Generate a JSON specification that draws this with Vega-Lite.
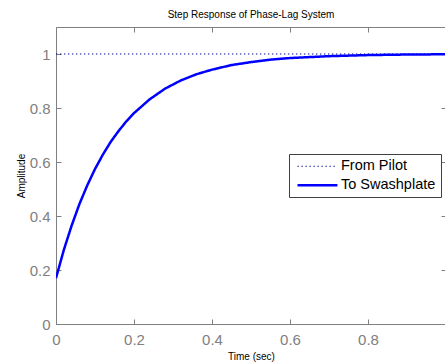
{
  "$schema": "https://vega.github.io/schema/vega-lite/v6.json",
  "width": 390,
  "height": 297,
  "autosize": {"type": "none"},
  "padding": {"left": 56, "top": 27, "right": 0, "bottom": 38},
  "background": "white",
  "title": {"text": "Step Response of Phase-Lag System", "fontSize": 10, "font": "Liberation Sans", "fontWeight": "normal", "color": "#000000", "offset": 7},
  "config": {
    "view": {"stroke": "#808080", "strokeWidth": 1},
    "axis": {
      "domainColor": "#808080",
      "tickColor": "#808080",
      "tickSize": -5,
      "labelColor": "#808080",
      "labelFont": "Liberation Sans",
      "labelFontSize": 15,
      "labelFlush": false,
      "labelOverlap": false,
      "titleFont": "Liberation Sans",
      "titleFontSize": 10,
      "titleFontWeight": "normal",
      "titleColor": "#000000",
      "grid": false
    },
    "legend": {
      "orient": "none",
      "legendX": 233,
      "legendY": 127,
      "strokeColor": "#404040",
      "fillColor": "#ffffff",
      "padding": 5,
      "symbolType": "M-0.79,0H7.63",
      "symbolSize": 90,
      "labelFont": "Liberation Sans",
      "labelFontSize": 14.5,
      "labelColor": "#000000",
      "labelOffset": 32.5,
      "labelLimit": 300,
      "rowPadding": 4
    }
  },
  "data": {
    "values": [
      {"series": "From Pilot", "t": 0, "y": 1},
      {"series": "From Pilot", "t": 1, "y": 1},
      {"series": "To Swashplate", "t": 0, "y": 0.17},
      {"series": "To Swashplate", "t": 0.02, "y": 0.274},
      {"series": "To Swashplate", "t": 0.04, "y": 0.364},
      {"series": "To Swashplate", "t": 0.06, "y": 0.444},
      {"series": "To Swashplate", "t": 0.08, "y": 0.513},
      {"series": "To Swashplate", "t": 0.1, "y": 0.574},
      {"series": "To Swashplate", "t": 0.12, "y": 0.627},
      {"series": "To Swashplate", "t": 0.14, "y": 0.674},
      {"series": "To Swashplate", "t": 0.16, "y": 0.714},
      {"series": "To Swashplate", "t": 0.18, "y": 0.75},
      {"series": "To Swashplate", "t": 0.2, "y": 0.781},
      {"series": "To Swashplate", "t": 0.24, "y": 0.832},
      {"series": "To Swashplate", "t": 0.28, "y": 0.872},
      {"series": "To Swashplate", "t": 0.32, "y": 0.902},
      {"series": "To Swashplate", "t": 0.36, "y": 0.925},
      {"series": "To Swashplate", "t": 0.4, "y": 0.942},
      {"series": "To Swashplate", "t": 0.45, "y": 0.959},
      {"series": "To Swashplate", "t": 0.5, "y": 0.97},
      {"series": "To Swashplate", "t": 0.55, "y": 0.979},
      {"series": "To Swashplate", "t": 0.6, "y": 0.985},
      {"series": "To Swashplate", "t": 0.7, "y": 0.992},
      {"series": "To Swashplate", "t": 0.8, "y": 0.996},
      {"series": "To Swashplate", "t": 0.9, "y": 0.998},
      {"series": "To Swashplate", "t": 1, "y": 0.999}
    ]
  },
  "layer": [
    {
      "mark": {"type": "line", "clip": true},
      "encoding": {
        "x": {"field": "t", "type": "quantitative", "scale": {"domain": [0, 1], "nice": false},
              "axis": {"orient": "bottom", "title": "Time (sec)", "values": [0, 0.2, 0.4, 0.6, 0.8], "format": ".1~f", "labelPadding": 13, "titlePadding": 4}},
        "y": {"field": "y", "type": "quantitative", "scale": {"domain": [0, 1.1], "nice": false},
              "axis": {"orient": "left", "title": "Amplitude", "values": [0, 0.2, 0.4, 0.6, 0.8, 1], "format": ".1~f", "labelPadding": 11, "titlePadding": 3}},
        "color": {"field": "series", "type": "nominal", "scale": {"domain": ["From Pilot", "To Swashplate"], "range": ["#00008b", "#0000ff"]},
                  "legend": {"title": null}},
        "strokeDash": {"field": "series", "type": "nominal", "scale": {"domain": ["From Pilot", "To Swashplate"], "range": [[1.3, 2.7], [1, 0]]},
                  "legend": {"title": null}},
        "strokeWidth": {"field": "series", "type": "nominal", "scale": {"domain": ["From Pilot", "To Swashplate"], "range": [1.2, 2.5]},
                  "legend": {"title": null}}
      }
    },
    {
      "mark": {"type": "line", "opacity": 0},
      "encoding": {
        "x": {"field": "t", "type": "quantitative", "axis": {"orient": "top", "labels": false, "title": null, "values": [0.2, 0.4, 0.6, 0.8], "domain": false}},
        "y": {"field": "y", "type": "quantitative", "axis": {"orient": "right", "labels": false, "title": null, "values": [0.2, 0.4, 0.6, 0.8, 1], "domain": false}}
      }
    }
  ],
  "resolve": {"axis": {"x": "independent", "y": "independent"}}
}
